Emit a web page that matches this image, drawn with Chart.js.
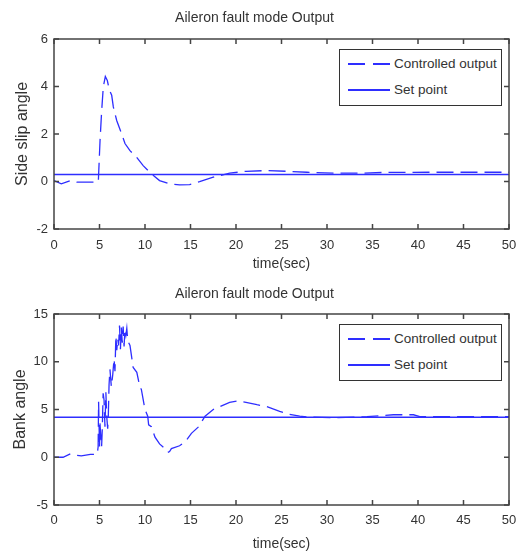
<!DOCTYPE html>
<html>
<head>
<meta charset="utf-8">
<script src="https://cdn.jsdelivr.net/npm/chart.js@4/dist/chart.umd.min.js"></script>
<style>
  html, body { margin: 0; padding: 0; background: #fff; }
  body { width: 518px; height: 553px; position: relative; overflow: hidden; }
  .panel { position: absolute; left: 0; width: 518px; }
  .legend {
    position: absolute; margin: 0; padding: 0.5px 4px 2.5px 8px; list-style: none;
    background: #fff; border: 1.5px solid #333; box-sizing: border-box; width: 163px;
    font-family: 'Liberation Sans', Arial, sans-serif;
    font-size: 13.5px; color: #333; white-space: nowrap;
  }
  .legend li { display: flex; align-items: center; height: 26px; }
</style>
</head>
<body>
<div class="panel" style="top:0;height:280px">
  <canvas id="beta" width="518" height="280"></canvas>
  <ul id="betaLegend" class="legend"></ul>
</div>
<div class="panel" style="top:280px;height:273px">
  <canvas id="phi" width="518" height="273"></canvas>
  <ul id="phiLegend" class="legend"></ul>
</div>
<script>
// side slip angle (top)
const betaTime = [0, 0.8, 1.8, 2.5, 4.0, 4.87, 5.06, 5.24, 5.42, 5.64, 5.86, 6.08, 6.34, 6.52, 6.89, 7.44, 7.8, 8.35, 9.08, 9.8, 10.7, 11.6, 12.7, 13.8, 14.9, 16.0, 17.5, 19.3, 21.1, 23.4, 25.6, 27.8, 30.7, 33.6, 36.1, 41.6, 50];
const betaOut = [0.04, -0.1, 0.04, -0.03, -0.03, -0.02, 1.73, 2.99, 4.0, 4.42, 4.25, 3.86, 3.63, 3.14, 2.57, 2.0, 1.6, 1.3, 1.02, 0.67, 0.32, 0.04, -0.1, -0.14, -0.13, -0.01, 0.18, 0.35, 0.43, 0.46, 0.43, 0.39, 0.35, 0.35, 0.38, 0.39, 0.39];
const betaSetTime = [0, 50];
const betaSet = [0.3, 0.3];
const betaTicks = { min: -2, max: 6, step: 2 };

// bank angle (bottom)
const phiTime = [0, 1.0, 1.8, 2.1, 2.5, 3.0, 4.0, 4.75, 4.85, 4.9, 4.95, 5.0, 5.05, 5.1, 5.23, 5.3, 5.4, 5.5, 5.6, 5.7, 5.8, 5.9, 5.97, 6.05, 6.15, 6.3, 6.45, 6.6, 6.7, 6.8, 6.9, 7.0, 7.1, 7.2, 7.3, 7.4, 7.5, 7.6, 7.7, 7.8, 7.9, 8.0, 8.1, 8.35, 8.7, 9.1, 9.45, 9.6, 10.0, 10.3, 10.4, 10.7, 11.1, 11.6, 12.2, 12.5, 12.7, 12.9, 13.8, 14.4, 15.1, 15.9, 16.6, 17.5, 18.2, 19.3, 20.2, 21.1, 22.3, 23.4, 24.8, 25.9, 27.0, 28.1, 30.7, 33.0, 34.4, 37.3, 39.5, 40.2, 45, 50];
const phiOut = [0, 0, 0.35, 0.3, 0.2, 0.15, 0.3, 0.3, 1.1, 5.8, 3.5, 1.0, 3.6, 2.8, 1.1, 2.8, 6.7, 6.0, 3.2, 6.8, 4.2, 3.0, 4.4, 7.6, 9.2, 7.4, 8.6, 10.3, 9.0, 12.7, 11.2, 12.4, 11.7, 13.8, 11.3, 13.6, 12.0, 13.7, 11.6, 13.4, 12.8, 13.5, 12.2, 11.7, 9.4, 8.9, 7.3, 7.1, 5.0, 4.3, 3.4, 3.2, 2.1, 1.4, 0.9, 0.5, 0.6, 0.9, 1.2, 1.6, 2.5, 3.2, 4.3, 5.0, 5.3, 5.75, 5.9, 5.75, 5.5, 5.3, 4.8, 4.5, 4.3, 4.2, 4.15, 4.2, 4.25, 4.45, 4.45, 4.25, 4.25, 4.25];
const phiSetTime = [0, 50];
const phiSet = [4.2, 4.2];
const phiTicks = { min: -5, max: 15, step: 5 };

const timeTicks = { min: 0, max: 50, step: 5 };

const blue = '#2e2eff';
Chart.defaults.font.family = "'Liberation Sans', Arial, sans-serif";
Chart.defaults.color = '#333';

const pts = (xs, ys) => xs.map((x, i) => ({ x: x, y: ys[i] }));

// MATLAB style box with inward ticks on all four sides
const frame = {
  id: 'frame',
  afterDatasetsDraw(c) {
    const { ctx, chartArea: a, scales } = c;
    ctx.save();
    ctx.strokeStyle = '#444';
    ctx.lineWidth = 1.5;
    ctx.strokeRect(a.left, a.top, a.right - a.left, a.bottom - a.top);
    ctx.beginPath();
    scales.x.ticks.forEach((t) => {
      const px = scales.x.getPixelForValue(t.value);
      ctx.moveTo(px, a.bottom); ctx.lineTo(px, a.bottom - 5);
      ctx.moveTo(px, a.top); ctx.lineTo(px, a.top + 5);
    });
    scales.y.ticks.forEach((t) => {
      const py = scales.y.getPixelForValue(t.value);
      ctx.moveTo(a.left, py); ctx.lineTo(a.left + 5, py);
      ctx.moveTo(a.right, py); ctx.lineTo(a.right - 5, py);
    });
    ctx.stroke();
    ctx.restore();
  },
};

function htmlLegend(ul) {
  return {
    id: 'htmlLegend',
    afterUpdate(c) {
      while (ul.firstChild) ul.firstChild.remove();
      ul.style.top = (c.chartArea.top + 10) + 'px';
      ul.style.left = (c.chartArea.right - 7 - 163) + 'px';
      const items = c.options.plugins.legend.labels.generateLabels(c);
      items.forEach((item) => {
        const li = document.createElement('li');
        const box = document.createElement('span');
        box.style.display = 'block';
        box.style.width = '42px';
        box.style.height = '2px';
        box.style.marginRight = '4px';
        if (item.lineDash && item.lineDash.length) {
          box.style.background = 'repeating-linear-gradient(to right, ' + item.strokeStyle +
            ' 0 17px, transparent 17px 25px)';
        } else {
          box.style.background = item.strokeStyle;
        }
        const label = document.createElement('span');
        label.appendChild(document.createTextNode(item.text));
        li.appendChild(box);
        li.appendChild(label);
        ul.appendChild(li);
      });
    },
  };
}

function makeChart(id, legendId, yLabel, time, out, setTime, set, yTicks, lay) {
  return new Chart(document.getElementById(id), {
    type: 'line',
    data: {
      datasets: [
        {
          label: 'Controlled output',
          data: pts(time, out),
          borderColor: blue,
          borderWidth: 1.3,
          borderDash: [17, 7],
          pointRadius: 0,
          tension: 0,
        },
        {
          label: 'Set point',
          data: pts(setTime, set),
          borderColor: blue,
          borderWidth: 1.5,
          pointRadius: 0,
        },
      ],
    },
    options: {
      responsive: false,
      animation: false,
      devicePixelRatio: 1,
      layout: { padding: { left: 0, right: 9, top: 0, bottom: 0 } },
      plugins: {
        legend: { display: false },
        tooltip: { enabled: false },
        title: {
          display: true,
          text: 'Aileron fault mode Output',
          color: '#333',
          font: { size: 14, weight: 'normal', lineHeight: 1.2 },
          padding: { top: lay.titleTop, bottom: lay.titleBottom },
        },
      },
      scales: {
        x: {
          type: 'linear',
          min: timeTicks.min,
          max: timeTicks.max,
          // hidden grid, tickLength only spaces the labels away from the box
          grid: { display: false, drawTicks: true, tickLength: lay.xTickGap },
          border: { display: false },
          ticks: { stepSize: timeTicks.step, padding: 0, font: { size: 13, lineHeight: 1.2 }, color: '#333', maxRotation: 0 },
          title: {
            display: true,
            text: 'time(sec)',
            color: '#333',
            font: { size: 14, lineHeight: 1.2 },
            padding: { top: 0, bottom: lay.xTitlePad },
          },
          afterFit(scale) { scale.height = lay.xHeight; },
        },
        y: {
          min: yTicks.min,
          max: yTicks.max,
          grid: { display: false, drawTicks: true, tickLength: 6 },
          border: { display: false },
          ticks: { stepSize: yTicks.step, padding: 0, font: { size: 13, lineHeight: 1.2 }, color: '#333' },
          title: {
            display: true,
            text: yLabel,
            color: '#333',
            font: { size: 16, lineHeight: 1.2 },
            padding: { top: lay.yTitlePad, bottom: 0 },
          },
          afterFit(scale) { scale.width = 54; },
        },
      },
    },
    plugins: [frame, htmlLegend(document.getElementById(legendId))],
  });
}

makeChart('beta', 'betaLegend', 'Side slip angle', betaTime, betaOut, betaSetTime, betaSet, betaTicks,
  { titleTop: 9.6, titleBottom: 12.6, xHeight: 51, xTickGap: 8.7, xTitlePad: 7.6, yTitlePad: 13 });
makeChart('phi', 'phiLegend', 'Bank angle', phiTime, phiOut, phiSetTime, phiSet, phiTicks,
  { titleTop: 6.1, titleBottom: 11.1, xHeight: 48, xTickGap: 7.2, xTitlePad: 0.6, yTitlePad: 11 });
</script>
</body>
</html>
